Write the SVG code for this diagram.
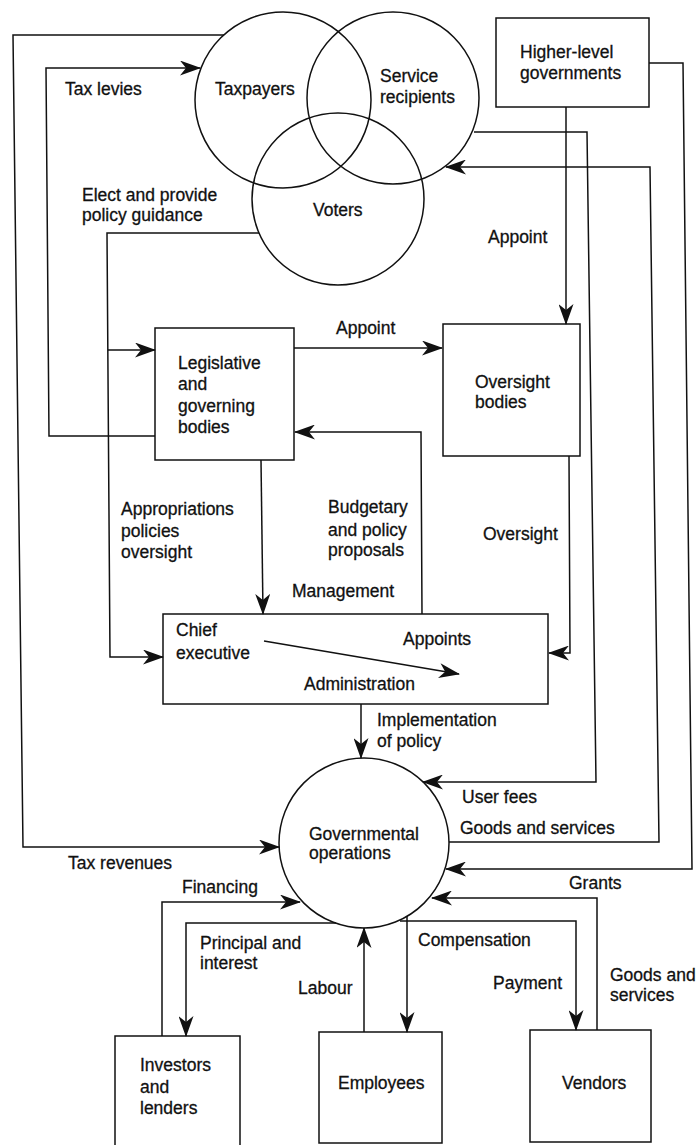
<svg xmlns="http://www.w3.org/2000/svg" width="696" height="1145" viewBox="0 0 696 1145">
<defs>
<marker id="ah" markerUnits="userSpaceOnUse" markerWidth="21" markerHeight="15" refX="20" refY="7.5" orient="auto">
<path d="M0,0 L21,7.5 L0,15 L6,7.5 z" fill="#111"/>
</marker>
<style>
.n{fill:none;stroke:#111;stroke-width:1.5}
.c{fill:none;stroke:#111;stroke-width:1.5;marker-end:url(#ah)}
text{font-family:"Liberation Sans",Arial,sans-serif;font-size:17.5px;fill:#111;stroke:#111;stroke-width:0.3}
</style>
</defs>
<rect width="696" height="1145" fill="#fff"/>

<g id="connectors">
<polyline class="c" points="224,35 13,35 23,847 279,847"/>
<polyline class="c" points="155,436 49,436 46,68 200,68"/>
<polyline class="c" points="259,233 107,233 110,657 163,657"/>
<polyline class="c" points="108,350 155,350"/>
<polyline class="c" points="294,348 442,348"/>
<polyline class="c" points="566,107 566,324"/>
<polyline class="c" points="474,132 587,132 596,782 423,782"/>
<polyline class="c" points="449,842 659,842 650,167 446,167"/>
<polyline class="c" points="649,63 683,63 692,869 446,869"/>
<polyline class="c" points="261,460 263,614"/>
<polyline class="c" points="422,614 421,432 295,432"/>
<polyline class="c" points="569,456 570,653 549,653"/>
<polyline class="c" points="264,641 459,674"/>
<polyline class="c" points="361,704 361,758"/>
<polyline class="c" points="162,1036 162,902 300,902"/>
<polyline class="c" points="336,923 186,923 186,1036"/>
<polyline class="c" points="364,1032 364,928"/>
<polyline class="c" points="407,916 407,1032"/>
<polyline class="c" points="400,921 576,921 576,1030"/>
<polyline class="c" points="597,1030 597,898 432,898"/>
</g>

<g id="taxpayers">
<circle class="n" cx="283" cy="100" r="88"/>
<text x="215" y="95">Taxpayers</text>
</g>
<g id="service-recipients">
<circle class="n" cx="393" cy="98" r="86"/>
<text x="380" y="82">Service</text>
<text x="380" y="103">recipients</text>
</g>
<g id="voters">
<circle class="n" cx="338" cy="199" r="86"/>
<text x="313" y="216">Voters</text>
</g>
<g id="higher-level">
<rect class="n" x="496" y="18" width="153" height="89"/>
<text x="520" y="58">Higher-level</text>
<text x="520" y="79">governments</text>
</g>
<g id="legislative">
<rect class="n" x="155" y="328" width="139" height="132"/>
<text x="178" y="369">Legislative</text>
<text x="178" y="390">and</text>
<text x="178" y="412">governing</text>
<text x="178" y="433">bodies</text>
</g>
<g id="oversight">
<rect class="n" x="443" y="324" width="137" height="132"/>
<text x="475" y="388">Oversight</text>
<text x="475" y="408">bodies</text>
</g>
<g id="chief-executive">
<rect class="n" x="163" y="614" width="385" height="90"/>
<text x="176" y="636">Chief</text>
<text x="176" y="659">executive</text>
</g>
<g id="governmental-operations">
<circle class="n" cx="364" cy="843" r="85"/>
<text x="309" y="840">Governmental</text>
<text x="309" y="859">operations</text>
</g>
<g id="investors">
<rect class="n" x="115" y="1036" width="125" height="115"/>
<text x="140" y="1071">Investors</text>
<text x="140" y="1093">and</text>
<text x="140" y="1114">lenders</text>
</g>
<g id="employees">
<rect class="n" x="319" y="1032" width="123" height="111"/>
<text x="338" y="1089">Employees</text>
</g>
<g id="vendors">
<rect class="n" x="530" y="1030" width="121" height="112"/>
<text x="562" y="1089">Vendors</text>
</g>

<g id="labels">
<text x="65" y="95">Tax levies</text>
<text x="82" y="201">Elect and provide</text>
<text x="82" y="221">policy guidance</text>
<text x="488" y="243">Appoint</text>
<text x="336" y="334">Appoint</text>
<text x="121" y="515">Appropriations</text>
<text x="121" y="537">policies</text>
<text x="121" y="558">oversight</text>
<text x="328" y="513">Budgetary</text>
<text x="328" y="536">and policy</text>
<text x="328" y="556">proposals</text>
<text x="483" y="540">Oversight</text>
<text x="292" y="597">Management</text>
<text x="403" y="645">Appoints</text>
<text x="304" y="690">Administration</text>
<text x="377" y="726">Implementation</text>
<text x="377" y="747">of policy</text>
<text x="462" y="803">User fees</text>
<text x="460" y="834">Goods and services</text>
<text x="68" y="869">Tax revenues</text>
<text x="569" y="889">Grants</text>
<text x="182" y="893">Financing</text>
<text x="200" y="949">Principal and</text>
<text x="200" y="969">interest</text>
<text x="418" y="946">Compensation</text>
<text x="298" y="994">Labour</text>
<text x="493" y="989">Payment</text>
<text x="610" y="981">Goods and</text>
<text x="610" y="1001">services</text>
</g>
</svg>
